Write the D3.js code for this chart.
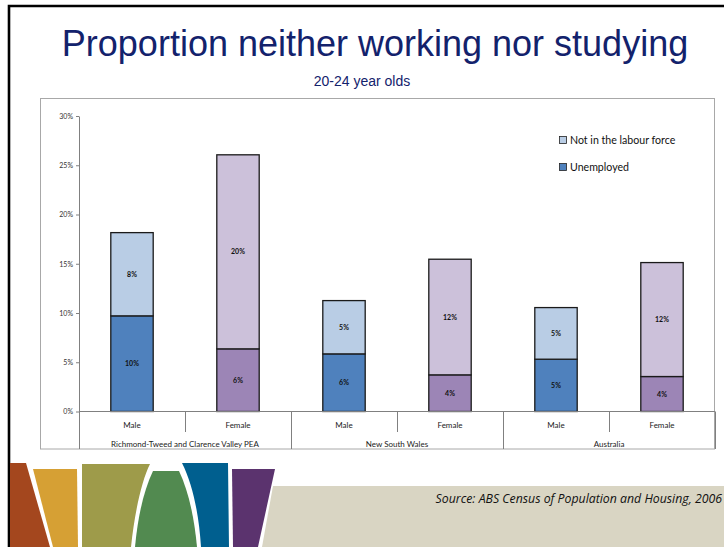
<!DOCTYPE html>
<html><head><meta charset="utf-8">
<script src="https://cdn.jsdelivr.net/npm/d3@7"></script>
<style>html,body{margin:0;padding:0;background:#fff;}svg{display:block;}</style>
</head><body><svg id="c" width="724" height="547"></svg>
<script>
// ---- data ----
const categories = ["Male","Female","Male","Female","Male","Female"];
const groups = ["Richmond-Tweed and Clarence Valley PEA","New South Wales","Australia"];
const unemployed = [0.0971, 0.0636, 0.0585, 0.0372, 0.0531, 0.0355];
const notInLabourForce = [0.0845, 0.1970, 0.0541, 0.1174, 0.0524, 0.1157];
const yTicks = [0, 0.05, 0.10, 0.15, 0.20, 0.25, 0.30];
const seriesNames = ["Not in the labour force","Unemployed"];
const titleText = "Proportion neither working nor studying";
const subtitleText = "20-24 year olds";
const sourceText = "Source: ABS Census of Population and Housing, 2006";

const svg = d3.select("#c");
const W = 724, H = 547;
const colors = {
  maleUnemp: "#4f81bd", maleNilf: "#b9cde5",
  femUnemp: "#9c85b6", femNilf: "#ccc1da"
};

// slide border
svg.append("path").attr("d", "M9,547 L9,6 L724,6").attr("fill","none").attr("stroke","#000").attr("stroke-width",2.6);

// title
svg.append("text").attr("x",375).attr("y",56).attr("text-anchor","middle")
  .attr("font-family","'Liberation Sans', Arial, sans-serif").attr("font-size",36)
  .attr("fill","#13226c").text(titleText);
svg.append("text").attr("x",362).attr("y",86).attr("text-anchor","middle")
  .attr("font-family","'Liberation Sans', Arial, sans-serif").attr("font-size",14)
  .attr("fill","#13226c").text(subtitleText);

// chart frame
svg.append("rect").attr("x",40.5).attr("y",98.5).attr("width",674).attr("height",350.5)
  .attr("fill","#fff").attr("stroke","#a8a8a8").attr("stroke-width",1);

const x0 = 79, x1 = 715, yTop = 116, yBot = 411.5;
const x = d3.scaleBand().domain(d3.range(categories.length)).range([x0,x1]).paddingInner(0.6).paddingOuter(0.3);
const y = d3.scaleLinear().domain([0,0.30]).range([yBot,yTop]);
const step = x.step();
const F = "Lato, 'Open Sans', sans-serif";

// y axis
const yAxis = d3.axisLeft(y).tickValues(yTicks).tickFormat(d3.format(".0%")).tickSize(3).tickSizeOuter(0);
const yg = svg.append("g").attr("transform",`translate(${x0},0)`).call(yAxis);
yg.select(".domain").attr("stroke","#808080");
yg.selectAll(".tick line").attr("stroke","#808080");
yg.selectAll(".tick text").attr("font-family",F).attr("font-size",7).attr("fill","#333").attr("x",-6);

// bars
const stacked = categories.map((c,i)=>({i, u: unemployed[i], n: notInLabourForce[i], fem: c==="Female"}));
const bw = x.bandwidth();
const bars = svg.append("g");
stacked.forEach(d=>{
  const xb = x(d.i);
  bars.append("rect").attr("x",xb).attr("y",y(d.u)).attr("width",bw).attr("height",y(0)-y(d.u))
    .attr("fill", d.fem?colors.femUnemp:colors.maleUnemp).attr("stroke","#1a1a1a").attr("stroke-width",1.3);
  bars.append("rect").attr("x",xb).attr("y",y(d.u+d.n)).attr("width",bw).attr("height",y(d.u)-y(d.u+d.n))
    .attr("fill", d.fem?colors.femNilf:colors.maleNilf).attr("stroke","#1a1a1a").attr("stroke-width",1.3);
  const fmt = d3.format(".0%");
  bars.append("text").attr("x",xb+bw/2).attr("y",(y(0)+y(d.u))/2+2.5).attr("text-anchor","middle")
    .attr("font-family",F).attr("font-weight","bold").attr("font-size",7).attr("fill","#111").text(fmt(d.u));
  bars.append("text").attr("x",xb+bw/2).attr("y",(y(d.u)+y(d.u+d.n))/2+2.5).attr("text-anchor","middle")
    .attr("font-family",F).attr("font-weight","bold").attr("font-size",7).attr("fill","#111").text(fmt(d.n));
});

// x axis
const xa = svg.append("g");
xa.append("line").attr("x1",x0).attr("x2",x1).attr("y1",yBot).attr("y2",yBot).attr("stroke","#808080");
for(let k=0;k<=categories.length;k++){
  const xx = Math.round(x0 + k*step)+0.5;
  const groupEdge = k%2===0;
  xa.append("line").attr("x1",xx).attr("x2",xx).attr("y1",yBot).attr("y2",groupEdge?449:432).attr("stroke","#808080");
}
categories.forEach((c,i)=>{
  xa.append("text").attr("x",x(i)+bw/2).attr("y",428).attr("text-anchor","middle")
    .attr("font-family",F).attr("font-size",8).attr("fill","#222").text(c);
});
groups.forEach((g,j)=>{
  xa.append("text").attr("x",x0+step*(2*j+1)).attr("y",447).attr("text-anchor","middle")
    .attr("font-family",F).attr("font-size",8).attr("fill","#222").text(g);
});

// legend
const leg = svg.append("g");
const legColors = [colors.maleNilf, colors.maleUnemp];
seriesNames.forEach((s,i)=>{
  const ly = 136 + i*27;
  leg.append("rect").attr("x",559.5).attr("y",ly+0.5).attr("width",7).attr("height",7)
    .attr("fill",legColors[i]).attr("stroke","#222").attr("stroke-width",0.8);
  leg.append("text").attr("x",570).attr("y",ly+8).attr("font-family",F).attr("font-size",10.6)
    .attr("fill","#111").text(s);
});

// bottom decoration
const deco = svg.append("g");
deco.append("path").attr("d","M273,486 L724,486 L724,547 L262,547 Z").attr("fill","#d9d5c3");
deco.append("path").attr("d","M10,463 L26,463 L50,547 L10,547 Z").attr("fill","#a4471e");
deco.append("path").attr("d","M33,469 L77,469 L78,547 L53,547 Z").attr("fill","#d6a034");
deco.append("path").attr("d","M82,464 L150,464 C142,480 135,510 131,547 L82,547 Z").attr("fill","#9e9b4a");
deco.append("path").attr("d","M153,471 L179,471 C188,490 194,515 197,547 L135,547 C138,515 144,490 153,471 Z").attr("fill","#528a50");
deco.append("path").attr("d","M182,463 L228,463 L229,547 L201,547 C199,515 193,485 182,463 Z").attr("fill","#005f8f");
deco.append("path").attr("d","M232,469 L275,469 L258,547 L233,547 Z").attr("fill","#5b336e");

svg.append("text").attr("x",722).attr("y",503).attr("text-anchor","end")
  .attr("font-family","'Open Sans', Lato, sans-serif").attr("font-style","italic").attr("font-size",12.3)
  .attr("fill","#111").text(sourceText);
</script></body></html>
